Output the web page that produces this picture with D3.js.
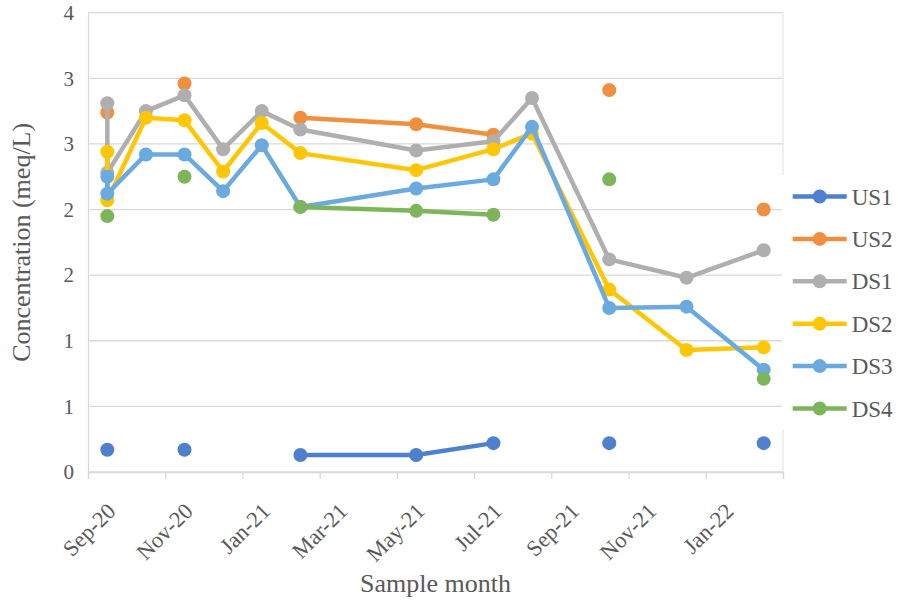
<!DOCTYPE html>
<html>
<head>
<meta charset="utf-8">
<script src="https://cdn.jsdelivr.net/npm/d3@7"></script>
<style>
  body { margin: 0; background: #fff; }
  text { font-family: "Liberation Serif", "Times New Roman", serif; fill: #595959; }
</style>
</head>
<body>
<div id="plot"></div>
<script>
// Sample dates (two samples fell in Sep-20, Excel plots them in the same month slot)
const sampleMonths = ["2020-09", "2020-09", "2020-10", "2020-11", "2020-12", "2021-01",
  "2021-02", "2021-05", "2021-07", "2021-08", "2021-10", "2021-12", "2022-02"];

// Concentration (meq/L), null = no sample
const US1 = [0.17, null, null, 0.17, null, null, 0.13, 0.13, 0.22, null, 0.22, null, 0.22];
const US2 = [2.74, null, null, 2.96, null, null, 2.70, 2.65, 2.57, null, 2.91, null, 2.00];
const DS1 = [2.81, 2.28, 2.75, 2.87, 2.46, 2.75, 2.61, 2.45, 2.52, 2.85, 1.62, 1.48, 1.69];
const DS2 = [2.44, 2.07, 2.70, 2.68, 2.29, 2.66, 2.43, 2.30, 2.46, 2.58, 1.39, 0.93, 0.95];
const DS3 = [2.25, 2.12, 2.42, 2.42, 2.14, 2.49, 2.02, 2.16, 2.23, 2.63, 1.25, 1.26, 0.78];
const DS4 = [1.95, null, null, 2.25, null, null, 2.02, 1.99, 1.96, null, 2.23, null, 0.71];

const seriesNames = ["US1", "US2", "DS1", "DS2", "DS3", "DS4"];
const seriesValues = [US1, US2, DS1, DS2, DS3, DS4];
const colors = ["#4E80CE", "#F0903F", "#AFAFAF", "#FFC605", "#6AAADE", "#7DB55A"];

// axis ticks
const xTickLabels = ["Sep-20", "Nov-20", "Jan-21", "Mar-21", "May-21", "Jul-21", "Sep-21", "Nov-21", "Jan-22", ""];
const yTicks = [0, 0.5, 1, 1.5, 2, 2.5, 3, 3.5];
const yTickLabels = ["0", "1", "1", "2", "2", "3", "3", "4"];

const width = 898, height = 604;
const margin = {top: 12.7, right: 115, bottom: 132, left: 88};

const svg = d3.select("#plot").append("svg")
  .attr("width", width)
  .attr("height", height);

// months counted from Sep 2020
const monthIndex = s => {
  const [y, m] = s.split("-").map(Number);
  return (y - 2020) * 12 + (m - 1) - 8;
};

const x = d3.scaleLinear([0, 18], [margin.left, width - margin.right]);
const y = d3.scaleLinear([0, 3.5], [height - margin.bottom, margin.top]);

// gridlines
svg.append("g")
  .selectAll("line")
  .data(yTicks)
  .join("line")
    .attr("x1", x(0))
    .attr("x2", x(18))
    .attr("y1", d => y(d))
    .attr("y2", d => y(d))
    .attr("stroke", "#D9D9D9")
    .attr("stroke-width", 1.3);

// right border of plot area
svg.append("line")
  .attr("x1", x(18)).attr("x2", x(18))
  .attr("y1", y(3.5)).attr("y2", y(0))
  .attr("stroke", "#E6E6E6")
  .attr("stroke-width", 1.3);

// y axis
const yAxis = d3.axisLeft(y)
  .tickValues(yTicks)
  .tickFormat((d, i) => yTickLabels[i])
  .tickSize(0)
  .tickPadding(14);
const gy = svg.append("g")
  .attr("transform", `translate(${x(0)},0)`)
  .attr("font-family", null)
  .call(yAxis);
gy.select(".domain").attr("stroke", "#D9D9D9").attr("stroke-width", 1.3);
gy.selectAll("text").style("font-size", "21px").attr("fill", "#595959");

// x axis
const xAxis = d3.axisBottom(x)
  .tickValues(d3.range(0, 19, 2))
  .tickFormat((d, i) => xTickLabels[i])
  .tickSize(7);
const gx = svg.append("g")
  .attr("transform", `translate(0,${y(0)})`)
  .call(xAxis);
gx.select(".domain").attr("stroke", "#D9D9D9").attr("stroke-width", 1.3);
gx.selectAll(".tick line").attr("stroke", "#D9D9D9").attr("stroke-width", 1.3);
gx.selectAll("text")
  .style("font-size", "22.5px")
  .attr("fill", "#595959")
  .attr("text-anchor", "end")
  .attr("y", 0)
  .attr("dy", "0.35em")
  .attr("transform", "translate(23,35) rotate(-45)");

// series
const line = d3.line()
  .defined(d => d.v != null)
  .x(d => x(d.m))
  .y(d => y(d.v));

seriesValues.forEach((vals, si) => {
  const pts = vals.map((v, i) => ({m: monthIndex(sampleMonths[i]) + 0.5, v}));
  const g = svg.append("g");
  g.append("path")
    .datum(pts)
    .attr("d", line)
    .attr("fill", "none")
    .attr("stroke", colors[si])
    .attr("stroke-width", 4.5)
    .attr("stroke-linejoin", "round");
  g.selectAll("circle")
    .data(pts.filter(d => d.v != null))
    .join("circle")
      .attr("cx", d => x(d.m))
      .attr("cy", d => y(d.v))
      .attr("r", 7)
      .attr("fill", colors[si]);
});

// legend
const legend = svg.append("g");
legend.append("rect")
  .attr("x", 782).attr("y", 175)
  .attr("width", 116).attr("height", 255)
  .attr("fill", "#fff");
const items = legend.selectAll("g.item")
  .data(seriesNames)
  .join("g")
    .attr("class", "item")
    .attr("transform", (d, i) => `translate(792.7,${196.5 + i * 42.4})`);
items.append("line")
  .attr("x1", 0).attr("x2", 54)
  .attr("stroke", (d, i) => colors[i])
  .attr("stroke-width", 4.5);
items.append("circle")
  .attr("cx", 27).attr("r", 7)
  .attr("fill", (d, i) => colors[i]);
items.append("text")
  .attr("x", 59)
  .attr("dy", "0.35em")
  .style("font-size", "23px")
  .text(d => d);

// axis titles
svg.append("text")
  .attr("transform", `translate(30,${(y(0) + y(3.5)) / 2}) rotate(-90)`)
  .attr("text-anchor", "middle")
  .style("font-size", "26px")
  .text("Concentration (meq/L)");

svg.append("text")
  .attr("x", (x(0) + x(18)) / 2)
  .attr("y", 592)
  .attr("text-anchor", "middle")
  .style("font-size", "26px")
  .text("Sample month");
</script>
</body>
</html>
